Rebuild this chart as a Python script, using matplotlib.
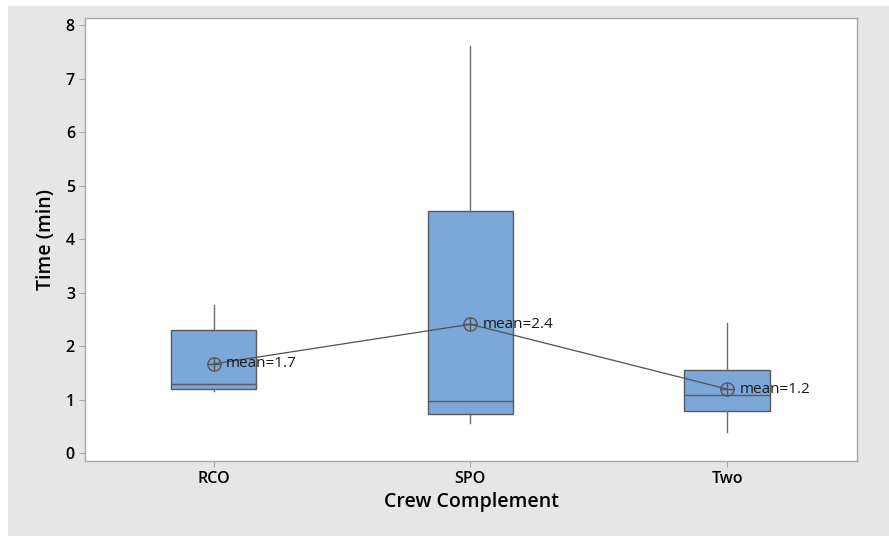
import matplotlib
matplotlib.use("Agg")
import matplotlib.pyplot as plt
import matplotlib.patches as patches
import numpy as np

# boxplot summaries per crew complement (minutes)
crews = ["RCO", "SPO", "Two"]
q1 = [1.20, 0.74, 0.79]
medians = [1.29, 0.97, 1.08]
q3 = [2.30, 4.52, 1.56]
whisk_lo = [1.16, 0.56, 0.39]
whisk_hi = [2.77, 7.60, 2.44]
means = [1.67, 2.41, 1.20]
mean_labels = ["mean=1.7", "mean=2.4", "mean=1.2"]

yticks = [0, 1, 2, 3, 4, 5, 6, 7, 8]

plt.rcParams['font.family'] = ['Open Sans', 'DejaVu Sans']

BOX_BLUE = "#7ba7d9"
EDGE = "#5a5a5a"
SPINE = "#a8a8a8"

fig = plt.figure(figsize=(8.89, 5.36), dpi=100)
fig.patch.set_facecolor("white")
# gray panel behind the plot
fig.patches.append(patches.Rectangle((8 / 889, 0), 1, 1 - 6 / 536,
                                     transform=fig.transFigure,
                                     facecolor="#e6e6e6", edgecolor="none",
                                     zorder=-10))

ax = fig.add_axes([85.3 / 889, 75 / 536, (856.7 - 85.3) / 889, (461 - 17.7) / 536])
ax.set_facecolor("white")

stats = []
for i in range(len(crews)):
    stats.append(dict(label=crews[i], q1=q1[i], med=medians[i], q3=q3[i],
                      whislo=whisk_lo[i], whishi=whisk_hi[i], fliers=[]))

pos = np.arange(1, len(crews) + 1)
ax.bxp(stats, positions=pos, widths=0.333, patch_artist=True, showcaps=False,
       boxprops=dict(facecolor=BOX_BLUE, edgecolor=EDGE, linewidth=1.0),
       medianprops=dict(color=EDGE, linewidth=1.0),
       whiskerprops=dict(color="#6e6e6e", linewidth=1.0))

# mean connect line and circled-plus symbols
ax.plot(pos, means, color="#505050", linewidth=0.9, zorder=3)
ax.plot(pos, means, linestyle="none", marker="o", markersize=9.5,
        markerfacecolor="none", markeredgecolor="#555555",
        markeredgewidth=1.0, zorder=4)
ax.plot(pos, means, linestyle="none", marker="+", markersize=9.5,
        markeredgecolor="#555555", markeredgewidth=1.0, zorder=4)
for x, m, lab in zip(pos, means, mean_labels):
    ax.annotate(lab, (x, m), xytext=(9, 0), textcoords="offset points",
                va="center", ha="left", fontsize=11, color="#1a1a1a", zorder=5)

ax.set_xlim(0.5, 3.505)
ax.set_ylim(-0.144, 8.136)
ax.set_yticks(yticks)
ax.set_xticks(pos)
ax.set_xticklabels(crews)

for s in ax.spines.values():
    s.set_color(SPINE)
    s.set_linewidth(1.0)

ax.tick_params(axis="both", direction="out", length=4.5, width=0.8,
               color=SPINE, labelsize=11.5, pad=3)
for t in ax.get_xticklabels() + ax.get_yticklabels():
    t.set_fontweight("semibold")

ax.set_xlabel("Crew Complement", fontsize=14, fontweight="semibold", labelpad=3)
ax.set_ylabel("Time (min)", fontsize=14, fontweight="semibold", labelpad=7)

fig.savefig("out.png", dpi=100)
